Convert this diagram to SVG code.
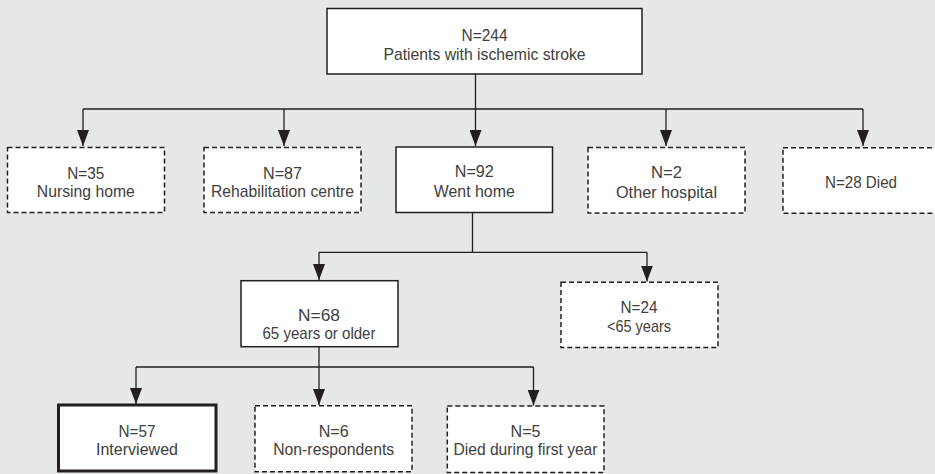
<svg xmlns="http://www.w3.org/2000/svg" width="935" height="474" viewBox="0 0 935 474">
  <style>
    .box { fill: #ffffff; stroke: #231f20; stroke-width: 1.5; }
    .dash { stroke-dasharray: 5 3; }
    .thick { stroke-width: 3; }
    .lbl { font-family: "Liberation Sans", Arial, sans-serif; font-size: 17px; fill: #404040; text-anchor: middle; }
    .link { fill: none; stroke: #231f20; stroke-width: 1.3; }
  </style>
  <defs>
    <marker id="arrow" viewBox="0 0 16 12" refX="16" refY="6" markerWidth="16" markerHeight="12" markerUnits="userSpaceOnUse" orient="auto">
      <path d="M0,0 L16,6 L0,12 z" fill="#231f20"/>
    </marker>
  </defs>

  <rect x="0" y="0" width="935" height="474" fill="#e6e7e8"/>

  <!-- connectors -->
  <g id="connectors">
    <path class="link" d="M83,109 H863"/>
    <path class="link" d="M475.5,74 V146" marker-end="url(#arrow)"/>
    <path class="link" d="M83,109 V146" marker-end="url(#arrow)"/>
    <path class="link" d="M284,109 V146" marker-end="url(#arrow)"/>
    <path class="link" d="M666,109 V146" marker-end="url(#arrow)"/>
    <path class="link" d="M863,109 V146" marker-end="url(#arrow)"/>

    <path class="link" d="M472.5,212.5 V252.3"/>
    <path class="link" d="M319,252.3 H647"/>
    <path class="link" d="M319,252.3 V280" marker-end="url(#arrow)"/>
    <path class="link" d="M647,252.3 V281.5" marker-end="url(#arrow)"/>

    <path class="link" d="M319,346.7 V367"/>
    <path class="link" d="M136,367 H533.5"/>
    <path class="link" d="M136,367 V404" marker-end="url(#arrow)"/>
    <path class="link" d="M319,367 V405" marker-end="url(#arrow)"/>
    <path class="link" d="M533.5,367 V405.5" marker-end="url(#arrow)"/>
  </g>

  <g id="total">
    <rect class="box" x="327" y="8.5" width="315" height="65.5"/>
    <text class="lbl" x="484.5" y="40.5" textLength="46" lengthAdjust="spacingAndGlyphs">N=244</text>
    <text class="lbl" x="484.5" y="60" textLength="202" lengthAdjust="spacingAndGlyphs">Patients with ischemic stroke</text>
  </g>

  <g id="nursing-home">
    <rect class="box dash" x="7.5" y="147.5" width="157" height="65"/>
    <text class="lbl" x="85.8" y="179" textLength="37" lengthAdjust="spacingAndGlyphs">N=35</text>
    <text class="lbl" x="85.8" y="197" textLength="98" lengthAdjust="spacingAndGlyphs">Nursing home</text>
  </g>

  <g id="rehabilitation">
    <rect class="box dash" x="204" y="147.5" width="157" height="65"/>
    <text class="lbl" x="282.5" y="179" textLength="39" lengthAdjust="spacingAndGlyphs">N=87</text>
    <text class="lbl" x="282.5" y="197" textLength="143" lengthAdjust="spacingAndGlyphs">Rehabilitation centre</text>
  </g>

  <g id="went-home">
    <rect class="box" x="396" y="147" width="156.5" height="65.5"/>
    <text class="lbl" x="474.3" y="177" textLength="39" lengthAdjust="spacingAndGlyphs">N=92</text>
    <text class="lbl" x="474.3" y="196.7" textLength="81" lengthAdjust="spacingAndGlyphs">Went home</text>
  </g>

  <g id="other-hospital">
    <rect class="box dash" x="588" y="147.5" width="157" height="65.5"/>
    <text class="lbl" x="666.5" y="178" textLength="31" lengthAdjust="spacingAndGlyphs">N=2</text>
    <text class="lbl" x="666.5" y="197.7" textLength="101" lengthAdjust="spacingAndGlyphs">Other hospital</text>
  </g>

  <g id="died">
    <rect class="box dash" x="783" y="147.7" width="158" height="65.5"/>
    <text class="lbl" x="861" y="188.3" textLength="72" lengthAdjust="spacingAndGlyphs">N=28 Died</text>
  </g>

  <g id="older">
    <rect class="box" x="241" y="280.7" width="157" height="66"/>
    <text class="lbl" x="319" y="320.7" textLength="42" lengthAdjust="spacingAndGlyphs">N=68</text>
    <text class="lbl" x="319" y="339.3" textLength="113" lengthAdjust="spacingAndGlyphs">65 years or older</text>
  </g>

  <g id="younger">
    <rect class="box dash" x="561" y="282.3" width="157" height="65.3"/>
    <text class="lbl" x="639" y="313" textLength="37" lengthAdjust="spacingAndGlyphs">N=24</text>
    <text class="lbl" x="639" y="331.7" textLength="64" lengthAdjust="spacingAndGlyphs">&lt;65 years</text>
  </g>

  <g id="interviewed">
    <rect class="box thick" x="58.5" y="405" width="157.5" height="66"/>
    <text class="lbl" x="137" y="436.7" textLength="37" lengthAdjust="spacingAndGlyphs">N=57</text>
    <text class="lbl" x="137" y="455" textLength="82" lengthAdjust="spacingAndGlyphs">Interviewed</text>
  </g>

  <g id="non-respondents">
    <rect class="box dash" x="255" y="405.7" width="157" height="66"/>
    <text class="lbl" x="333.7" y="436.7" textLength="30" lengthAdjust="spacingAndGlyphs">N=6</text>
    <text class="lbl" x="333.7" y="455" textLength="121" lengthAdjust="spacingAndGlyphs">Non-respondents</text>
  </g>

  <g id="died-first-year">
    <rect class="box dash" x="447.3" y="406" width="156.7" height="66.5"/>
    <text class="lbl" x="525.5" y="436.7" textLength="30" lengthAdjust="spacingAndGlyphs">N=5</text>
    <text class="lbl" x="525.5" y="455" textLength="144" lengthAdjust="spacingAndGlyphs">Died during first year</text>
  </g>
</svg>
